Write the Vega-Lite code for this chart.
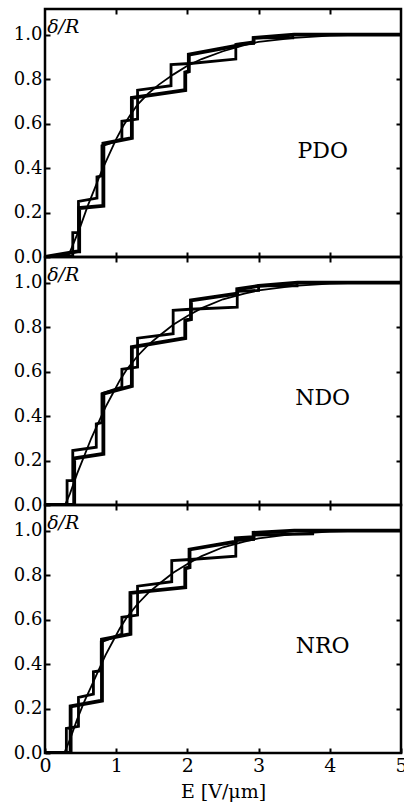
{
  "$schema": "https://vega.github.io/schema/vega-lite/v6.json",
  "padding": {"left": 12, "top": 6, "right": 0, "bottom": 4},
  "spacing": 0,
  "bounds": "flush",
  "background": "white",
  "datasets": {
    "curves": [
      {"p":"PDO","s":"thick","i":0,"E":0,"d":0},
      {"p":"PDO","s":"thick","i":1,"E":0.46,"d":0.025},
      {"p":"PDO","s":"thick","i":2,"E":0.48,"d":0.025},
      {"p":"PDO","s":"thick","i":3,"E":0.48,"d":0.22},
      {"p":"PDO","s":"thick","i":4,"E":0.82,"d":0.23},
      {"p":"PDO","s":"thick","i":5,"E":0.82,"d":0.51},
      {"p":"PDO","s":"thick","i":6,"E":1.22,"d":0.535},
      {"p":"PDO","s":"thick","i":7,"E":1.22,"d":0.715},
      {"p":"PDO","s":"thick","i":8,"E":1.97,"d":0.75},
      {"p":"PDO","s":"thick","i":9,"E":1.97,"d":0.83},
      {"p":"PDO","s":"thick","i":10,"E":2.02,"d":0.835},
      {"p":"PDO","s":"thick","i":11,"E":2.02,"d":0.91},
      {"p":"PDO","s":"thick","i":12,"E":2.7,"d":0.95},
      {"p":"PDO","s":"thick","i":13,"E":2.7,"d":0.955},
      {"p":"PDO","s":"thick","i":14,"E":2.93,"d":0.965},
      {"p":"PDO","s":"thick","i":15,"E":2.93,"d":0.985},
      {"p":"PDO","s":"thick","i":16,"E":3.5,"d":1.0},
      {"p":"PDO","s":"thick","i":17,"E":5,"d":1.0},

      {"p":"PDO","s":"medium","i":0,"E":0,"d":0},
      {"p":"PDO","s":"medium","i":1,"E":0.39,"d":0.005},
      {"p":"PDO","s":"medium","i":2,"E":0.39,"d":0.11},
      {"p":"PDO","s":"medium","i":3,"E":0.47,"d":0.11},
      {"p":"PDO","s":"medium","i":4,"E":0.47,"d":0.25},
      {"p":"PDO","s":"medium","i":5,"E":0.73,"d":0.265},
      {"p":"PDO","s":"medium","i":6,"E":0.73,"d":0.36},
      {"p":"PDO","s":"medium","i":7,"E":0.8,"d":0.365},
      {"p":"PDO","s":"medium","i":8,"E":0.8,"d":0.5},
      {"p":"PDO","s":"medium","i":9,"E":1.08,"d":0.53},
      {"p":"PDO","s":"medium","i":10,"E":1.08,"d":0.61},
      {"p":"PDO","s":"medium","i":11,"E":1.3,"d":0.62},
      {"p":"PDO","s":"medium","i":12,"E":1.3,"d":0.75},
      {"p":"PDO","s":"medium","i":13,"E":1.77,"d":0.77},
      {"p":"PDO","s":"medium","i":14,"E":1.77,"d":0.865},
      {"p":"PDO","s":"medium","i":15,"E":2.04,"d":0.87},
      {"p":"PDO","s":"medium","i":16,"E":2.68,"d":0.89},
      {"p":"PDO","s":"medium","i":17,"E":2.68,"d":0.955},
      {"p":"PDO","s":"medium","i":18,"E":2.93,"d":0.96},
      {"p":"PDO","s":"medium","i":19,"E":2.93,"d":0.985},
      {"p":"PDO","s":"medium","i":20,"E":3.48,"d":0.985},
      {"p":"PDO","s":"medium","i":21,"E":3.48,"d":1.0},
      {"p":"PDO","s":"medium","i":22,"E":5,"d":1.0},

      {"p":"PDO","s":"thin","i":0,"E":0.32,"d":0},
      {"p":"PDO","s":"thin","i":1,"E":0.4,"d":0.06},
      {"p":"PDO","s":"thin","i":2,"E":0.5,"d":0.14},
      {"p":"PDO","s":"thin","i":3,"E":0.6,"d":0.23},
      {"p":"PDO","s":"thin","i":4,"E":0.7,"d":0.31},
      {"p":"PDO","s":"thin","i":5,"E":0.8,"d":0.39},
      {"p":"PDO","s":"thin","i":6,"E":0.9,"d":0.46},
      {"p":"PDO","s":"thin","i":7,"E":1.0,"d":0.53},
      {"p":"PDO","s":"thin","i":8,"E":1.1,"d":0.59},
      {"p":"PDO","s":"thin","i":9,"E":1.2,"d":0.64},
      {"p":"PDO","s":"thin","i":10,"E":1.3,"d":0.685},
      {"p":"PDO","s":"thin","i":11,"E":1.45,"d":0.735},
      {"p":"PDO","s":"thin","i":12,"E":1.6,"d":0.775},
      {"p":"PDO","s":"thin","i":13,"E":1.8,"d":0.82},
      {"p":"PDO","s":"thin","i":14,"E":2.0,"d":0.86},
      {"p":"PDO","s":"thin","i":15,"E":2.2,"d":0.89},
      {"p":"PDO","s":"thin","i":16,"E":2.5,"d":0.925},
      {"p":"PDO","s":"thin","i":17,"E":2.8,"d":0.953},
      {"p":"PDO","s":"thin","i":18,"E":3.0,"d":0.967},
      {"p":"PDO","s":"thin","i":19,"E":3.5,"d":0.985},
      {"p":"PDO","s":"thin","i":20,"E":4.0,"d":0.995},
      {"p":"PDO","s":"thin","i":21,"E":4.5,"d":1.0},
      {"p":"PDO","s":"thin","i":22,"E":5,"d":1.0},

      {"p":"NDO","s":"thick","i":0,"E":0,"d":0},
      {"p":"NDO","s":"thick","i":1,"E":0.41,"d":0},
      {"p":"NDO","s":"thick","i":2,"E":0.41,"d":0.21},
      {"p":"NDO","s":"thick","i":3,"E":0.82,"d":0.23},
      {"p":"NDO","s":"thick","i":4,"E":0.82,"d":0.5},
      {"p":"NDO","s":"thick","i":5,"E":1.22,"d":0.535},
      {"p":"NDO","s":"thick","i":6,"E":1.22,"d":0.71},
      {"p":"NDO","s":"thick","i":7,"E":1.97,"d":0.75},
      {"p":"NDO","s":"thick","i":8,"E":1.97,"d":0.83},
      {"p":"NDO","s":"thick","i":9,"E":2.05,"d":0.835},
      {"p":"NDO","s":"thick","i":10,"E":2.05,"d":0.92},
      {"p":"NDO","s":"thick","i":11,"E":2.7,"d":0.95},
      {"p":"NDO","s":"thick","i":12,"E":2.7,"d":0.97},
      {"p":"NDO","s":"thick","i":13,"E":3.0,"d":0.985},
      {"p":"NDO","s":"thick","i":14,"E":3.55,"d":1.0},
      {"p":"NDO","s":"thick","i":15,"E":5,"d":1.0},

      {"p":"NDO","s":"medium","i":0,"E":0,"d":0},
      {"p":"NDO","s":"medium","i":1,"E":0.31,"d":0},
      {"p":"NDO","s":"medium","i":2,"E":0.31,"d":0.11},
      {"p":"NDO","s":"medium","i":3,"E":0.39,"d":0.11},
      {"p":"NDO","s":"medium","i":4,"E":0.39,"d":0.245},
      {"p":"NDO","s":"medium","i":5,"E":0.72,"d":0.26},
      {"p":"NDO","s":"medium","i":6,"E":0.72,"d":0.365},
      {"p":"NDO","s":"medium","i":7,"E":0.8,"d":0.37},
      {"p":"NDO","s":"medium","i":8,"E":0.8,"d":0.5},
      {"p":"NDO","s":"medium","i":9,"E":1.08,"d":0.53},
      {"p":"NDO","s":"medium","i":10,"E":1.08,"d":0.61},
      {"p":"NDO","s":"medium","i":11,"E":1.3,"d":0.62},
      {"p":"NDO","s":"medium","i":12,"E":1.3,"d":0.75},
      {"p":"NDO","s":"medium","i":13,"E":1.8,"d":0.77},
      {"p":"NDO","s":"medium","i":14,"E":1.8,"d":0.875},
      {"p":"NDO","s":"medium","i":15,"E":2.04,"d":0.88},
      {"p":"NDO","s":"medium","i":16,"E":2.7,"d":0.89},
      {"p":"NDO","s":"medium","i":17,"E":2.7,"d":0.96},
      {"p":"NDO","s":"medium","i":18,"E":3.0,"d":0.965},
      {"p":"NDO","s":"medium","i":19,"E":3.0,"d":0.985},
      {"p":"NDO","s":"medium","i":20,"E":3.54,"d":0.985},
      {"p":"NDO","s":"medium","i":21,"E":3.54,"d":1.0},
      {"p":"NDO","s":"medium","i":22,"E":5,"d":1.0},

      {"p":"NDO","s":"thin","i":0,"E":0.28,"d":0},
      {"p":"NDO","s":"thin","i":1,"E":0.35,"d":0.05},
      {"p":"NDO","s":"thin","i":2,"E":0.45,"d":0.14},
      {"p":"NDO","s":"thin","i":3,"E":0.55,"d":0.22},
      {"p":"NDO","s":"thin","i":4,"E":0.65,"d":0.3},
      {"p":"NDO","s":"thin","i":5,"E":0.75,"d":0.37},
      {"p":"NDO","s":"thin","i":6,"E":0.85,"d":0.44},
      {"p":"NDO","s":"thin","i":7,"E":0.95,"d":0.5},
      {"p":"NDO","s":"thin","i":8,"E":1.05,"d":0.56},
      {"p":"NDO","s":"thin","i":9,"E":1.15,"d":0.61},
      {"p":"NDO","s":"thin","i":10,"E":1.3,"d":0.67},
      {"p":"NDO","s":"thin","i":11,"E":1.45,"d":0.72},
      {"p":"NDO","s":"thin","i":12,"E":1.6,"d":0.76},
      {"p":"NDO","s":"thin","i":13,"E":1.8,"d":0.81},
      {"p":"NDO","s":"thin","i":14,"E":2.0,"d":0.85},
      {"p":"NDO","s":"thin","i":15,"E":2.2,"d":0.885},
      {"p":"NDO","s":"thin","i":16,"E":2.5,"d":0.925},
      {"p":"NDO","s":"thin","i":17,"E":2.8,"d":0.95},
      {"p":"NDO","s":"thin","i":18,"E":3.0,"d":0.965},
      {"p":"NDO","s":"thin","i":19,"E":3.5,"d":0.985},
      {"p":"NDO","s":"thin","i":20,"E":4.0,"d":0.995},
      {"p":"NDO","s":"thin","i":21,"E":4.5,"d":1.0},
      {"p":"NDO","s":"thin","i":22,"E":5,"d":1.0},

      {"p":"NRO","s":"thick","i":0,"E":0,"d":0},
      {"p":"NRO","s":"thick","i":1,"E":0.36,"d":0},
      {"p":"NRO","s":"thick","i":2,"E":0.36,"d":0.21},
      {"p":"NRO","s":"thick","i":3,"E":0.8,"d":0.235},
      {"p":"NRO","s":"thick","i":4,"E":0.8,"d":0.51},
      {"p":"NRO","s":"thick","i":5,"E":1.2,"d":0.535},
      {"p":"NRO","s":"thick","i":6,"E":1.2,"d":0.72},
      {"p":"NRO","s":"thick","i":7,"E":1.97,"d":0.745},
      {"p":"NRO","s":"thick","i":8,"E":1.97,"d":0.83},
      {"p":"NRO","s":"thick","i":9,"E":2.03,"d":0.835},
      {"p":"NRO","s":"thick","i":10,"E":2.03,"d":0.915},
      {"p":"NRO","s":"thick","i":11,"E":2.68,"d":0.95},
      {"p":"NRO","s":"thick","i":12,"E":2.68,"d":0.965},
      {"p":"NRO","s":"thick","i":13,"E":2.93,"d":0.97},
      {"p":"NRO","s":"thick","i":14,"E":2.93,"d":0.99},
      {"p":"NRO","s":"thick","i":15,"E":3.5,"d":1.0},
      {"p":"NRO","s":"thick","i":16,"E":5,"d":1.0},

      {"p":"NRO","s":"medium","i":0,"E":0,"d":0},
      {"p":"NRO","s":"medium","i":1,"E":0.3,"d":0},
      {"p":"NRO","s":"medium","i":2,"E":0.3,"d":0.11},
      {"p":"NRO","s":"medium","i":3,"E":0.47,"d":0.12},
      {"p":"NRO","s":"medium","i":4,"E":0.47,"d":0.25},
      {"p":"NRO","s":"medium","i":5,"E":0.68,"d":0.265},
      {"p":"NRO","s":"medium","i":6,"E":0.68,"d":0.365},
      {"p":"NRO","s":"medium","i":7,"E":0.79,"d":0.37},
      {"p":"NRO","s":"medium","i":8,"E":0.79,"d":0.5},
      {"p":"NRO","s":"medium","i":9,"E":1.08,"d":0.535},
      {"p":"NRO","s":"medium","i":10,"E":1.08,"d":0.61},
      {"p":"NRO","s":"medium","i":11,"E":1.3,"d":0.62},
      {"p":"NRO","s":"medium","i":12,"E":1.3,"d":0.75},
      {"p":"NRO","s":"medium","i":13,"E":1.78,"d":0.77},
      {"p":"NRO","s":"medium","i":14,"E":1.78,"d":0.865},
      {"p":"NRO","s":"medium","i":15,"E":2.04,"d":0.87},
      {"p":"NRO","s":"medium","i":16,"E":2.68,"d":0.885},
      {"p":"NRO","s":"medium","i":17,"E":2.68,"d":0.955},
      {"p":"NRO","s":"medium","i":18,"E":2.93,"d":0.96},
      {"p":"NRO","s":"medium","i":19,"E":2.93,"d":0.98},
      {"p":"NRO","s":"medium","i":20,"E":3.76,"d":0.985},
      {"p":"NRO","s":"medium","i":21,"E":3.76,"d":1.0},
      {"p":"NRO","s":"medium","i":22,"E":5,"d":1.0},

      {"p":"NRO","s":"thin","i":0,"E":0.27,"d":0},
      {"p":"NRO","s":"thin","i":1,"E":0.35,"d":0.06},
      {"p":"NRO","s":"thin","i":2,"E":0.45,"d":0.15},
      {"p":"NRO","s":"thin","i":3,"E":0.55,"d":0.23},
      {"p":"NRO","s":"thin","i":4,"E":0.65,"d":0.3},
      {"p":"NRO","s":"thin","i":5,"E":0.75,"d":0.37},
      {"p":"NRO","s":"thin","i":6,"E":0.85,"d":0.44},
      {"p":"NRO","s":"thin","i":7,"E":0.95,"d":0.5},
      {"p":"NRO","s":"thin","i":8,"E":1.05,"d":0.56},
      {"p":"NRO","s":"thin","i":9,"E":1.15,"d":0.61},
      {"p":"NRO","s":"thin","i":10,"E":1.3,"d":0.67},
      {"p":"NRO","s":"thin","i":11,"E":1.45,"d":0.72},
      {"p":"NRO","s":"thin","i":12,"E":1.6,"d":0.76},
      {"p":"NRO","s":"thin","i":13,"E":1.8,"d":0.81},
      {"p":"NRO","s":"thin","i":14,"E":2.0,"d":0.85},
      {"p":"NRO","s":"thin","i":15,"E":2.2,"d":0.885},
      {"p":"NRO","s":"thin","i":16,"E":2.5,"d":0.925},
      {"p":"NRO","s":"thin","i":17,"E":2.8,"d":0.95},
      {"p":"NRO","s":"thin","i":18,"E":3.0,"d":0.965},
      {"p":"NRO","s":"thin","i":19,"E":3.5,"d":0.985},
      {"p":"NRO","s":"thin","i":20,"E":4.0,"d":0.995},
      {"p":"NRO","s":"thin","i":21,"E":4.5,"d":1.0},
      {"p":"NRO","s":"thin","i":22,"E":5,"d":1.0}
    ],
    "notes": [
      {"p":"PDO","k":"name","E":3.9,"d":0.475,"t":"PDO"},
      {"p":"NDO","k":"name","E":3.9,"d":0.48,"t":"NDO"},
      {"p":"NRO","k":"name","E":3.9,"d":0.48,"t":"NRO"},
      {"p":"PDO","k":"dr","E":0.03,"d":1.035,"t":"δ/R"},
      {"p":"NDO","k":"dr","E":0.03,"d":1.035,"t":"δ/R"},
      {"p":"NRO","k":"dr","E":0.03,"d":1.035,"t":"δ/R"}
    ]
  },
  "vconcat": [
    {
      "width": 356, "height": 248,
      "resolve": {"axis": {"x": "independent", "y": "independent"}},
      "layer": [
        {
          "data": {"name": "curves"},
          "transform": [{"filter": "datum.p === 'PDO'"}],
          "mark": {"type": "line", "color": "black", "strokeJoin": "miter", "clip": true},
          "encoding": {
            "x": {"field": "E", "type": "quantitative", "scale": {"domain": [0, 5], "nice": false},
                  "axis": {"orient": "bottom", "labels": false, "title": null, "values": [1, 2, 3, 4]}},
            "y": {"field": "d", "type": "quantitative", "scale": {"domain": [0, 1.115], "nice": false, "zero": false},
                  "axis": {"orient": "left", "title": null, "values": [0, 0.2, 0.4, 0.6, 0.8, 1.0], "format": ".1f", "labelPadding": 8}},
            "detail": {"field": "s"},
            "order": {"field": "i", "type": "quantitative"},
            "strokeWidth": {"field": "s", "type": "nominal", "scale": {"domain": ["thick", "medium", "thin"], "range": [3.8, 1.8, 0.9]}, "legend": null}
          }
        },
        {
          "data": {"name": "notes"},
          "transform": [{"filter": "datum.p === 'PDO' && datum.k === 'dr'"}],
          "mark": {"type": "text", "align": "left", "baseline": "middle", "font": "DejaVu Serif", "fontStyle": "italic", "fontSize": 19, "color": "black"},
          "encoding": {
            "x": {"field": "E", "type": "quantitative", "axis": {"orient": "top", "labels": false, "title": null, "values": [1, 2, 3, 4]}},
            "y": {"field": "d", "type": "quantitative", "axis": {"orient": "right", "labels": false, "title": null, "values": [0.2, 0.4, 0.6, 0.8]}},
            "text": {"field": "t"}
          }
        },
        {
          "data": {"name": "notes"},
          "transform": [{"filter": "datum.p === 'PDO' && datum.k === 'name'"}],
          "mark": {"type": "text", "align": "center", "baseline": "middle", "font": "DejaVu Serif", "fontSize": 22, "color": "black"},
          "encoding": {
            "x": {"field": "E", "type": "quantitative", "axis": null},
            "y": {"field": "d", "type": "quantitative", "axis": null},
            "text": {"field": "t"}
          }
        }
      ]
    },
    {
      "width": 356, "height": 248,
      "resolve": {"axis": {"x": "independent", "y": "independent"}},
      "layer": [
        {
          "data": {"name": "curves"},
          "transform": [{"filter": "datum.p === 'NDO'"}],
          "mark": {"type": "line", "color": "black", "strokeJoin": "miter", "clip": true},
          "encoding": {
            "x": {"field": "E", "type": "quantitative", "scale": {"domain": [0, 5], "nice": false},
                  "axis": {"orient": "bottom", "labels": false, "title": null, "values": [1, 2, 3, 4]}},
            "y": {"field": "d", "type": "quantitative", "scale": {"domain": [0, 1.115], "nice": false, "zero": false},
                  "axis": {"orient": "left", "title": null, "values": [0, 0.2, 0.4, 0.6, 0.8, 1.0], "format": ".1f", "labelPadding": 8}},
            "detail": {"field": "s"},
            "order": {"field": "i", "type": "quantitative"},
            "strokeWidth": {"field": "s", "type": "nominal", "scale": {"domain": ["thick", "medium", "thin"], "range": [3.8, 1.8, 0.9]}, "legend": null}
          }
        },
        {
          "data": {"name": "notes"},
          "transform": [{"filter": "datum.p === 'NDO' && datum.k === 'dr'"}],
          "mark": {"type": "text", "align": "left", "baseline": "middle", "font": "DejaVu Serif", "fontStyle": "italic", "fontSize": 19, "color": "black"},
          "encoding": {
            "x": {"field": "E", "type": "quantitative", "axis": {"orient": "top", "labels": false, "title": null, "values": [1, 2, 3, 4]}},
            "y": {"field": "d", "type": "quantitative", "axis": {"orient": "right", "labels": false, "title": null, "values": [0.2, 0.4, 0.6, 0.8]}},
            "text": {"field": "t"}
          }
        },
        {
          "data": {"name": "notes"},
          "transform": [{"filter": "datum.p === 'NDO' && datum.k === 'name'"}],
          "mark": {"type": "text", "align": "center", "baseline": "middle", "font": "DejaVu Serif", "fontSize": 22, "color": "black"},
          "encoding": {
            "x": {"field": "E", "type": "quantitative", "axis": null},
            "y": {"field": "d", "type": "quantitative", "axis": null},
            "text": {"field": "t"}
          }
        }
      ]
    },
    {
      "width": 356, "height": 248,
      "resolve": {"axis": {"x": "independent", "y": "independent"}},
      "layer": [
        {
          "data": {"name": "curves"},
          "transform": [{"filter": "datum.p === 'NRO'"}],
          "mark": {"type": "line", "color": "black", "strokeJoin": "miter", "clip": true},
          "encoding": {
            "x": {"field": "E", "type": "quantitative", "scale": {"domain": [0, 5], "nice": false},
                  "axis": {"orient": "bottom", "title": "E [V/μm]", "values": [0, 1, 2, 3, 4, 5], "format": "d", "labelFlush": false, "labelPadding": 8, "labelFontSize": 19, "titleFontSize": 19, "titlePadding": 7}},
            "y": {"field": "d", "type": "quantitative", "scale": {"domain": [0, 1.115], "nice": false, "zero": false},
                  "axis": {"orient": "left", "title": null, "values": [0, 0.2, 0.4, 0.6, 0.8, 1.0], "format": ".1f", "labelPadding": 8}},
            "detail": {"field": "s"},
            "order": {"field": "i", "type": "quantitative"},
            "strokeWidth": {"field": "s", "type": "nominal", "scale": {"domain": ["thick", "medium", "thin"], "range": [3.8, 1.8, 0.9]}, "legend": null}
          }
        },
        {
          "data": {"name": "notes"},
          "transform": [{"filter": "datum.p === 'NRO' && datum.k === 'dr'"}],
          "mark": {"type": "text", "align": "left", "baseline": "middle", "font": "DejaVu Serif", "fontStyle": "italic", "fontSize": 19, "color": "black"},
          "encoding": {
            "x": {"field": "E", "type": "quantitative", "axis": {"orient": "top", "labels": false, "title": null, "values": [1, 2, 3, 4]}},
            "y": {"field": "d", "type": "quantitative", "axis": {"orient": "right", "labels": false, "title": null, "values": [0.2, 0.4, 0.6, 0.8]}},
            "text": {"field": "t"}
          }
        },
        {
          "data": {"name": "notes"},
          "transform": [{"filter": "datum.p === 'NRO' && datum.k === 'name'"}],
          "mark": {"type": "text", "align": "center", "baseline": "middle", "font": "DejaVu Serif", "fontSize": 22, "color": "black"},
          "encoding": {
            "x": {"field": "E", "type": "quantitative", "axis": null},
            "y": {"field": "d", "type": "quantitative", "axis": null},
            "text": {"field": "t"}
          }
        }
      ]
    }
  ],
  "config": {
    "view": {"stroke": "black", "strokeWidth": 2.5},
    "axis": {
      "domain": false, "grid": false, "minExtent": 0, "offset": 0,
      "ticks": true, "tickColor": "black", "tickWidth": 2, "tickSize": -5,
      "labelFont": "DejaVu Serif", "labelFontSize": 18, "labelColor": "black",
      "titleFont": "DejaVu Serif", "titleFontSize": 18, "titleFontWeight": "normal", "titleColor": "black"
    }
  }
}
